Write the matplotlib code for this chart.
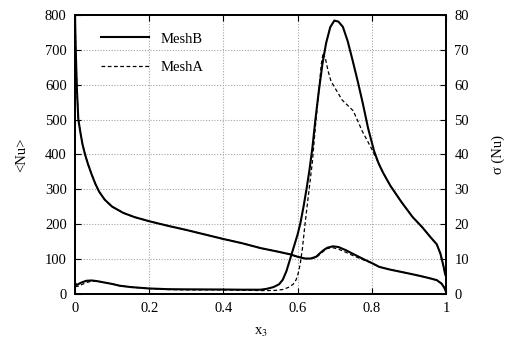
import numpy as np
import matplotlib
matplotlib.use("Agg")
import matplotlib.pyplot as plt

plt.rcParams['font.family'] = ['Liberation Serif', 'DejaVu Serif']
plt.rcParams['mathtext.fontset'] = 'stix'
plt.rcParams['font.size'] = 10

# <Nu> (left axis)
x_nu = [0, 0.002, 0.005, 0.009, 0.015, 0.02, 0.027, 0.035, 0.045, 0.055, 0.065,
        0.08, 0.1, 0.13, 0.16, 0.2, 0.25, 0.3, 0.35, 0.4, 0.45, 0.5, 0.55, 0.58,
        0.6, 0.62, 0.635, 0.65, 0.66, 0.67, 0.68, 0.695, 0.71, 0.73, 0.75, 0.78,
        0.8, 0.82, 0.85, 0.9, 0.93, 0.95, 0.975, 0.988, 0.995, 1.0]
nu_b = [800, 700, 590, 500, 460, 430, 400, 372, 342, 315, 293,
        270, 250, 232, 220, 208, 195, 183, 170, 157, 145, 131, 120, 113,
        106, 101, 101, 106, 116, 125, 132, 136, 134, 125, 114, 98,
        88, 77, 69, 58, 51, 46, 39, 29, 18, 5]
nu_a = [800, 700, 590, 500, 460, 430, 400, 372, 342, 315, 293,
        270, 250, 232, 220, 208, 195, 183, 170, 157, 145, 131, 120, 113,
        106, 101, 100, 104, 113, 122, 130, 132, 128, 119, 109, 96,
        88, 77, 69, 58, 51, 46, 39, 29, 18, 5]

# sigma(Nu) (right axis)
x_sb = [0, 0.005, 0.015, 0.03, 0.045, 0.06, 0.08, 0.1, 0.12, 0.15, 0.2, 0.25, 0.3,
        0.4, 0.45, 0.5, 0.517, 0.535, 0.55, 0.56, 0.57, 0.58, 0.59, 0.6, 0.608,
        0.616, 0.624, 0.632, 0.64, 0.648, 0.657, 0.667, 0.677, 0.688, 0.699, 0.71,
        0.722, 0.735, 0.748, 0.762, 0.775, 0.79, 0.806, 0.818, 0.83, 0.85, 0.88,
        0.91, 0.935, 0.96, 0.975, 0.985, 0.993, 0.998, 1.0]
sig_b = [3.0, 2.5, 3.1, 3.7, 3.8, 3.6, 3.2, 2.8, 2.3, 1.9, 1.5, 1.3, 1.25,
         1.2, 1.15, 1.15, 1.4, 1.9, 2.7, 4.0, 6.5, 10.0, 13.5, 17.0, 20.5,
         25.0, 30.0, 35.5, 42.0, 50.0, 58.0, 66.0, 72.0, 76.5, 78.4, 78.1,
         76.6, 72.5, 67.1, 61.0, 55.0, 47.5, 41.0, 37.5, 34.8, 31.0, 26.3,
         22.0, 19.2, 16.0, 14.2, 11.5, 8.0, 5.5, 5.0]
x_sa = [0, 0.01, 0.02, 0.031, 0.045, 0.06, 0.08, 0.1, 0.12, 0.15, 0.2, 0.25, 0.3,
        0.4, 0.45, 0.5, 0.52, 0.54, 0.56, 0.575, 0.588, 0.596, 0.602, 0.607,
        0.613, 0.62, 0.63, 0.64, 0.648, 0.657, 0.664, 0.669, 0.675, 0.682, 0.69,
        0.7, 0.72, 0.75, 0.775, 0.8, 0.818, 0.83, 0.85, 0.88,
        0.91, 0.935, 0.96, 0.975, 0.985, 0.993, 0.998, 1.0]
sig_a = [2.0, 2.2, 2.7, 3.2, 3.6, 3.6, 3.2, 2.8, 2.3, 1.9, 1.5, 1.2, 1.1,
         1.1, 1.0, 0.9, 0.9, 0.95, 1.2, 1.8, 2.7, 4.0, 6.0, 8.5,
         13.0, 20.0, 29.0, 38.0, 48.0, 58.0, 66.0, 69.2, 67.5, 64.0, 61.0,
         59.2, 55.6, 52.5, 46.5, 41.5, 37.5, 34.8, 31.0, 26.3,
         22.0, 19.2, 16.0, 14.2, 11.5, 8.0, 5.5, 5.0]

xticks = [0, 0.2, 0.4, 0.6, 0.8, 1]
xticklabels = ['0', '0.2', '0.4', '0.6', '0.8', '1']

fig = plt.figure(figsize=(5.12, 3.44), dpi=100)
ax = fig.add_axes([75/512, 1-293.7/344, 371/512, 278.7/344])
ax2 = ax.twinx()

# courbes
l1, = ax.plot(x_nu, nu_b, 'k-', lw=1.5)
ax.plot(x_nu, nu_a, 'k', lw=0.9, dashes=(3, 2))
ax2.plot(x_sb, sig_b, 'k-', lw=1.5)
l2, = ax2.plot(x_sa, sig_a, 'k', lw=0.9, dashes=(3, 2))

ax.set_xlim(0, 1)
ax.set_ylim(0, 800)
ax2.set_ylim(0, 80)
ax.set_xticks(xticks)
ax.set_xticklabels(xticklabels)
ax.set_yticks(np.arange(0, 801, 100))
ax2.set_yticks(np.arange(0, 81, 10))

ax.grid(True, color='#a5a5a5', linestyle=(0, (1, 1.5)), lw=0.8)
ax.tick_params(direction='in', length=4, top=True, right=False, labelsize=10.5, pad=6)
ax2.tick_params(direction='in', length=4, labelsize=10.5, pad=6)
for a in (ax, ax2):
    for s in a.spines.values():
        s.set_linewidth(1.3)

ax.set_ylabel('<Nu>', fontsize=10.5, labelpad=12)
ax2.set_ylabel('σ (Nu)', fontsize=10.5, labelpad=16)
ax.set_xlabel('x$_3$', fontsize=10.5, labelpad=8)

ax2.legend([l1, l2], ['MeshB', 'MeshA'], loc='upper left', frameon=False,
           handlelength=3.3, labelspacing=1.05, borderaxespad=0.6,
           bbox_to_anchor=(0.03, 0.99), fontsize=10.5)

fig.savefig('out.png', dpi=100)
